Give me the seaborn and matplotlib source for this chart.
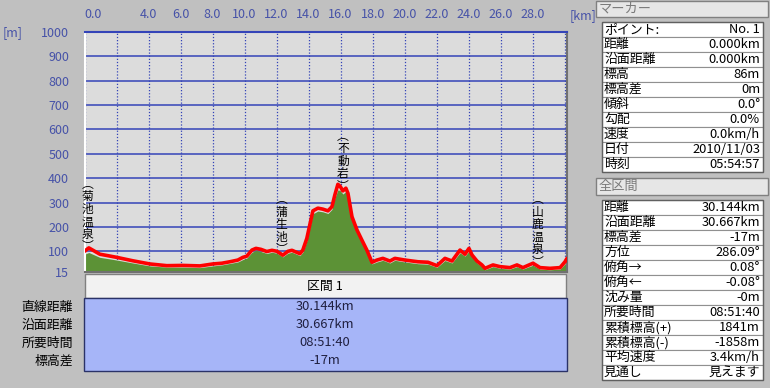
import matplotlib
matplotlib.use("Agg")
import matplotlib.pyplot as plt
import seaborn as sns
import numpy as np
from matplotlib.patches import Rectangle

# distance along track [km]
km = [0.0, 0.27, 0.96, 1.46, 2.02, 2.52, 3.02, 4.08, 5.14, 6.14, 7.21, 8.02, 8.58, 9.08,
      9.58, 9.89, 10.14, 10.46, 10.71, 11.02, 11.39, 11.71, 12.02, 12.39, 12.71, 12.96,
      13.46, 13.64, 13.89, 14.08, 14.27, 14.58, 14.89, 15.21, 15.46, 15.64, 15.83, 15.96,
      16.14, 16.33, 16.46, 16.71, 17.02, 17.33, 17.64, 17.96, 18.27, 18.64, 19.08, 19.39,
      20.02, 20.83, 21.46, 22.02, 22.52, 22.96, 23.27, 23.46, 23.77, 24.02, 24.21, 24.52,
      24.83, 25.02, 25.52, 25.96, 26.58, 27.02, 27.39, 28.02, 28.46, 29.08, 29.71, 30.02, 30.144]
# GPS elevation [m] (red line)
gps_elev = [100, 114, 88, 82, 75, 68, 61, 48, 41, 42, 40, 48, 51, 57,
            64, 75, 80, 105, 112, 108, 99, 104, 100, 84, 100, 104,
            90, 105, 153, 210, 266, 277, 273, 266, 283, 331, 375, 368,
            348, 359, 338, 242, 188, 146, 105, 55, 64, 71, 60, 71,
            64, 57, 55, 41, 71, 60, 88, 105, 88, 112, 85, 60,
            44, 30, 44, 37, 33, 44, 33, 51, 33, 30, 33, 57, 71]
# map elevation [m] (green area)
map_elev = [88, 95, 75, 70, 64, 58, 52, 40, 35, 35, 33, 40, 44, 50,
            56, 66, 72, 96, 104, 99, 91, 96, 92, 77, 92, 96,
            82, 96, 143, 198, 254, 265, 262, 255, 272, 318, 352, 350,
            335, 345, 325, 232, 180, 138, 97, 48, 56, 63, 52, 63,
            56, 49, 47, 34, 62, 52, 78, 94, 80, 100, 78, 52,
            37, 24, 37, 30, 27, 37, 27, 43, 27, 24, 27, 48, 62]

x_ticks = [0, 4, 6, 8, 10, 12, 14, 16, 18, 20, 22, 24, 26, 28]
y_ticks = [15, 100, 200, 300, 400, 500, 600, 700, 800, 900, 1000]

place_names = ["菊池温泉", "蒲生池", "不動岩", "山鹿温泉"]
place_km = [0.2, 12.3, 16.15, 28.3]
place_top = [401, 339, 598, 339]

marker_labels = ["ポイント:", "距離", "沿面距離", "標高", "標高差", "傾斜", "勾配", "速度", "日付", "時刻"]
marker_values = ["No. 1", "0.000km", "0.000km", "86m", "0m", "0.0°", "0.0%", "0.0km/h", "2010/11/03", "05:54:57"]

total_labels = ["距離", "沿面距離", "標高差", "方位", "俯角→", "俯角←", "沈み量", "所要時間",
                "累積標高(+)", "累積標高(-)", "平均速度", "見通し"]
total_values = ["30.144km", "30.667km", "-17m", "286.09°", "0.08°", "-0.08°", "-0m", "08:51:40",
                "1841m", "-1858m", "3.4km/h", "見えます"]

section_labels = ["直線距離", "沿面距離", "所要時間", "標高差"]
section_values = ["30.144km", "30.667km", "08:51:40", "-17m"]

sns.set_theme(style="white")
plt.rcParams['font.family'] = ['Noto Sans CJK JP', 'DejaVu Sans']

BG = "#c0c0c0"
GRID = "#3444b8"
TXT_BLUE = "#4652a8"

fig = plt.figure(figsize=(7.7, 3.88), dpi=100, facecolor=BG)

# overlay in pixel coordinates for the panels
ov = fig.add_axes([0, 0, 1, 1])
ov.set_xlim(0, 770)
ov.set_ylim(388, 0)
ov.axis("off")
ov.patch.set_alpha(0)


def header(y0, y1, title):
    ov.add_patch(Rectangle((596, y0), 172, y1 - y0, facecolor="#e6e6e6", edgecolor="#808080", lw=1))
    ov.text(599, (y0 + y1) / 2, title, fontsize=9.5, color="#7a7a7a", va="center", ha="left")


def table(y0, labels, values, row_h=15, x0=602, x1=763):
    for i, (lab, val) in enumerate(zip(labels, values)):
        y = y0 + i * row_h
        ov.add_patch(Rectangle((x0, y), x1 - x0, row_h, facecolor="white", edgecolor="#909090", lw=0.8))
        ov.text(x0 + 2, y + row_h / 2, lab, fontsize=9.3, va="center", ha="left", color="black")
        ov.text(x1 - 3, y + row_h / 2, val, fontsize=9.3, va="center", ha="right", color="black")
    ov.add_patch(Rectangle((x0, y0), x1 - x0, row_h * len(labels), facecolor="none", edgecolor="#606060", lw=1))


header(1, 17, "マーカー")
table(22, marker_labels, marker_values)
header(178, 195, "全区間")
table(200, total_labels, total_values)

# section summary below the profile
ov.add_patch(Rectangle((85, 274), 481, 24, facecolor="#f2f2f2", edgecolor="#808080", lw=1))
ov.text(325, 286, "区間 1", fontsize=9.3, ha="center", va="center", color="black")
ov.add_patch(Rectangle((84, 298), 483, 73, facecolor="#a6b5f8", edgecolor="#2a3268", lw=1))
for i, (lab, val) in enumerate(zip(section_labels, section_values)):
    y = 307 + i * 18
    ov.text(73, y, lab, fontsize=9.3, ha="right", va="center", color="black")
    ov.text(325, y, val, fontsize=9.3, ha="center", va="center", color="#202040")

# elevation profile
ax = fig.add_axes([84.5 / 770, 1 - 272 / 388, 482.5 / 770, 240 / 388])
ax.set_facecolor("#dcdcdc")
ax.fill_between(km, 0, map_elev, color="#5c9236", lw=0, zorder=2)
sns.lineplot(x=km, y=gps_elev, ax=ax, color="#ff0000", lw=2.6, zorder=3, sort=False)

ax.set_xlim(0, 30.144)
ax.set_ylim(15, 1000)

for yv in y_ticks[1:-1]:
    ax.axhline(yv, color=GRID, lw=1.1, zorder=1)
for xv in np.arange(0, 31, 2):
    ax.axvline(xv, color=GRID, lw=0.9, ls=(0, (1, 1.5)), zorder=1)

ax.xaxis.tick_top()
ax.set_xticks(x_ticks)
ax.set_xticklabels([f"{v:.1f}" for v in x_ticks])
ax.set_yticks(y_ticks)
ax.set_yticklabels([str(v) for v in y_ticks])
ax.tick_params(axis="x", length=0, pad=8, labelsize=9, labelcolor=TXT_BLUE)
ax.tick_params(axis="y", length=0, pad=11, labelsize=9, labelcolor=TXT_BLUE)
ax.get_xticklabels()[0].set_horizontalalignment("left")
ax.set_xlabel("")
ax.set_ylabel("")

for side, col in [("top", GRID), ("left", "white"), ("right", "#707070"), ("bottom", "#707070")]:
    ax.spines[side].set_color(col)
    ax.spines[side].set_linewidth(1.5)
    ax.spines[side].set_visible(True)

for name, xk, yt in zip(place_names, place_km, place_top):
    vert = "︵\n" + "\n".join(name) + "\n︶"
    ax.text(xk, yt, vert, fontsize=8.5, ha="center", va="top", color="black",
            linespacing=0.95, zorder=4)

fig.text(3 / 770, 1 - 33 / 388, "[m]", fontsize=9, color=TXT_BLUE, va="center", ha="left")
fig.text(570 / 770, 1 - 16 / 388, "[km]", fontsize=9, color=TXT_BLUE, va="center", ha="left")

fig.savefig("out.png", dpi=100, facecolor=BG)
